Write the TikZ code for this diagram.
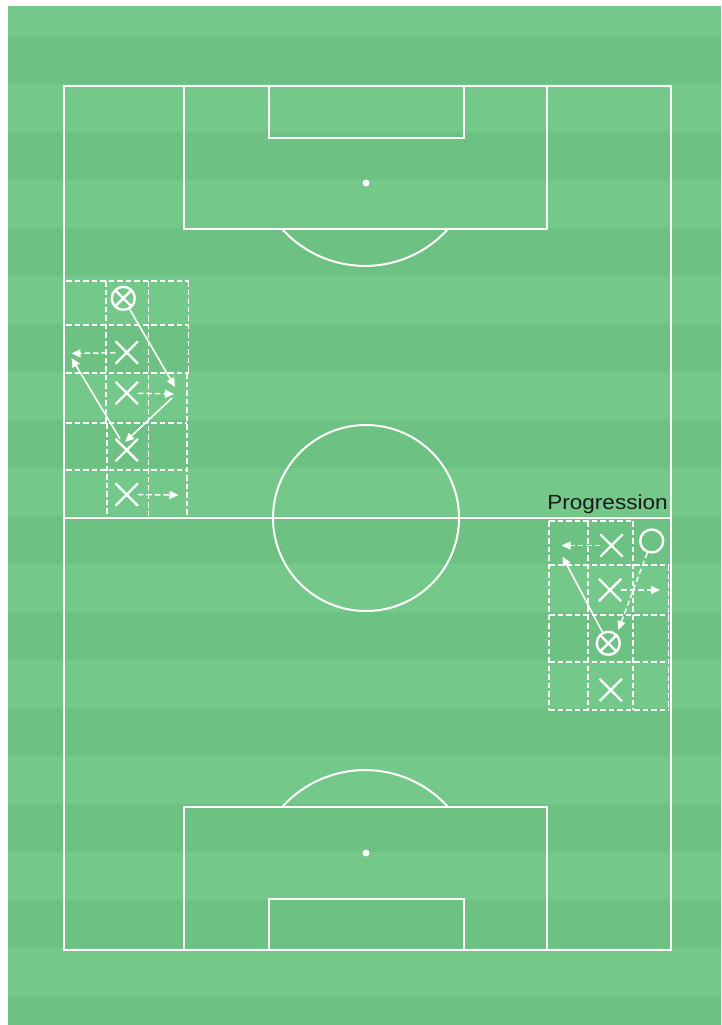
\documentclass[tikz,border=0pt]{standalone}
\usepackage{fontspec}
\newfontfamily\labelfont{Liberation Sans}
\usetikzlibrary{arrows.meta,shapes.misc}
\definecolor{grassA}{RGB}{116,201,138}
\definecolor{grassB}{RGB}{109,193,130}
\definecolor{labelcol}{RGB}{26,26,26}
\begin{document}
\begin{tikzpicture}[x=1pt,y=-1pt,
  pitchline/.style={white,line width=2pt},
  gridline/.style={white,line width=1.5pt,dash pattern=on 5.5pt off 3pt},
  xplayer/.style={cross out,draw=white,line width=2.4pt,minimum size=20pt,inner sep=0pt},
  oplayer/.style={circle,draw=white,line width=2.4pt,minimum size=23pt,inner sep=0pt},
  ballplayer/.style={oplayer,path picture={\draw[white,line width=2.4pt]
      (path picture bounding box.north west)--(path picture bounding box.south east)
      (path picture bounding box.north east)--(path picture bounding box.south west);}},
  pass/.style={white,line width=1.6pt,-{Triangle[length=9pt,width=8pt]}},
  run/.style={white,line width=1.5pt,dash pattern=on 5.5pt off 3pt,-{Triangle[length=9pt,width=8pt]}},
]
\useasboundingbox (0,0) rectangle (721,1025);
% grass
\fill[grassA] (8,6) rectangle (721,1025);
\foreach \k in {0,...,10} {
  \fill[grassB] (8,{36+96*\k}) rectangle (721,{min(84+96*\k,1025)});
}
% pitch
\draw[pitchline] (64,86) rectangle (671,950);
\draw[pitchline] (64,518) -- (671,518);
\draw[pitchline] (366,518) circle[radius=93];
\draw[pitchline] (184,86) rectangle (547,229);
\draw[pitchline] (269,86) rectangle (464,138);
\fill[white] (366,183) circle[radius=3.5];
\draw[pitchline] (448,229) arc[start angle=42,end angle=138,radius=111.6];
\draw[pitchline] (184,807) rectangle (547,950);
\draw[pitchline] (269,899) rectangle (464,950);
\fill[white] (366,853) circle[radius=3.5];
\draw[pitchline] (448,807) arc[start angle=-42,end angle=-138,radius=111.6];

% left grid
\foreach \y in {281,325,373} \draw[gridline] (66,\y) -- (189,\y);
\foreach \y in {423,470} \draw[gridline] (66,\y) -- (187,\y);
\draw[gridline] (106,281) -- (106,423);
\draw[gridline] (107,423) -- (107,518);
\draw[gridline] (148.5,281) -- (148.5,518);
\draw[gridline] (188.5,281) -- (188.5,373);
\draw[gridline] (187,373) -- (187,518);

% right grid
\draw[gridline] (549,521) -- (634,521);
\foreach \y in {565,615,662,710} \draw[gridline] (549,\y) -- (669,\y);
\foreach \x in {549,588,633} \draw[gridline] (\x,521) -- (\x,710);
\draw[gridline] (668.5,565) -- (668.5,710);

% left players
\node[ballplayer] (lb) at (123.3,298.3) {};
\node[xplayer] (lx2) at (126.7,352.5) {};
\node[xplayer] (lx3) at (126.7,393) {};
\node[xplayer] (lx4) at (126.7,450) {};
\node[xplayer] (lx5) at (126.7,494.5) {};
\coordinate (lA) at (175,387);
\coordinate (lrun2) at (71.5,353.5);
\coordinate (lB) at (71.5,358);
\coordinate (lrun3) at (174,394);
\coordinate (lCs) at (172,398);
\coordinate (lCe) at (125,442);
\coordinate (lrun5) at (178.5,495);
\draw[pass] (lb) -- (lA);
\draw[run] (lx2) -- (lrun2);
\draw[pass] (lx4) -- (lB);
\draw[run] (lx3) -- (lrun3);
\draw[pass] (lCs) -- (lCe);
\draw[run] (lx5) -- (lrun5);

% right players
\node[xplayer] (rx1) at (611.5,545.5) {};
\node[oplayer] (ro) at (651.7,541) {};
\node[xplayer] (rx2) at (610,590) {};
\node[ballplayer] (rb) at (608.3,643.3) {};
\node[xplayer] (rx4) at (610.7,690) {};
\coordinate (rrun1) at (561.5,545.5);
\coordinate (rpass) at (562.5,556.5);
\coordinate (rorun) at (618.3,630);
\coordinate (rrun2) at (660,590);
\draw[run] (rx1) -- (rrun1);
\draw[pass] (rb) -- (rpass);
\draw[run] (ro) -- (rorun);
\draw[run] (rx2) -- (rrun2);

% label
\node[font=\labelfont\fontsize{20.5}{20.5}\selectfont,text=labelcol,anchor=base,
      xscale=1.1,inner sep=0pt] (lbl) at (607.5,509) {Progression};
\end{tikzpicture}
\end{document}
